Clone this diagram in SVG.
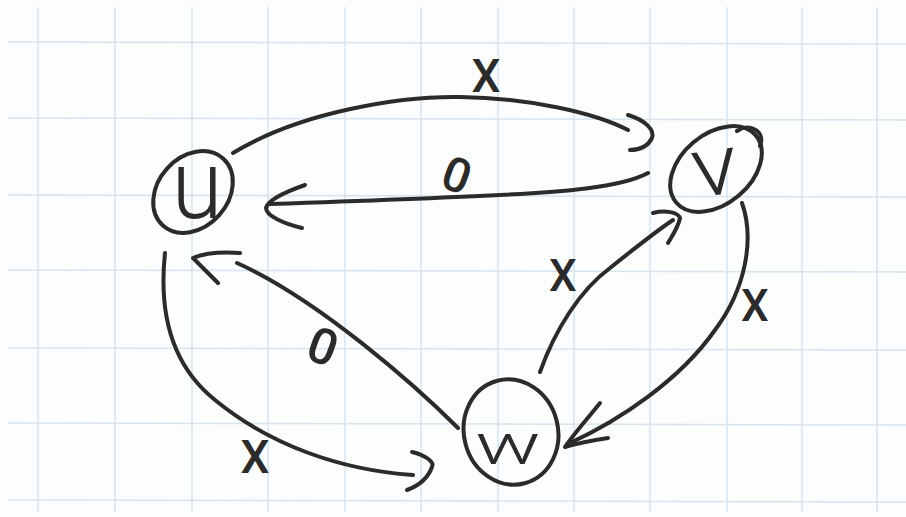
<svg xmlns="http://www.w3.org/2000/svg" width="906" height="517" viewBox="0 0 906 517">
<style>
.grid line{stroke:#d6e4ee;stroke-width:1.5}
.ink{fill:none;stroke:#2b2b2b;stroke-width:4;stroke-linecap:round;stroke-linejoin:round}
.lbl{font-family:Roboto,"Liberation Sans",sans-serif;font-weight:500;fill:#2b2b2b;text-anchor:middle}
.let{font-family:Roboto,"Liberation Sans",sans-serif;font-weight:300;fill:#2b2b2b;text-anchor:middle}
</style>
<rect width="906" height="517" fill="#fcfdfd"/>
<g class="grid">
<line x1="38" y1="7" x2="38" y2="512"/><line x1="115" y1="7" x2="115" y2="512"/><line x1="192" y1="7" x2="192" y2="512"/><line x1="268" y1="7" x2="268" y2="512"/><line x1="345" y1="7" x2="345" y2="512"/><line x1="421" y1="7" x2="421" y2="512"/><line x1="498" y1="7" x2="498" y2="512"/><line x1="574" y1="7" x2="574" y2="512"/><line x1="650" y1="7" x2="650" y2="512"/><line x1="727" y1="7" x2="727" y2="512"/><line x1="802" y1="7" x2="802" y2="512"/><line x1="877" y1="7" x2="877" y2="512"/>
<line x1="8" y1="42" x2="906" y2="44"/><line x1="8" y1="118" x2="906" y2="120"/><line x1="8" y1="195" x2="906" y2="197"/><line x1="8" y1="270" x2="906" y2="272"/><line x1="8" y1="348" x2="906" y2="350"/><line x1="8" y1="423" x2="906" y2="425"/><line x1="8" y1="500" x2="906" y2="502"/>
</g>
<g id="connectors">
<g id="e-u-v">
<path class="ink" d="M233,153 C300,112 400,96 460,97 C530,98 595,113 628,130"/>
<path class="ink" d="M628,115 C645,120 655,130 652,138 C648,146 640,150 630,150"/>
<text class="lbl" x="486" y="92" font-size="46">X</text>
</g>
<g id="e-v-u">
<path class="ink" d="M648,173 C620,188 560,192 500,195 C420,199 330,202 270,204"/>
<path class="ink" d="M305,185 C285,192 268,200 266,208 C266,216 285,224 302,228"/>
<text class="lbl" x="457" y="192" font-size="48" transform="rotate(20 457 175)">0</text>
</g>
<g id="e-w-u">
<path class="ink" d="M458,428 C420,390 320,300 237,263"/>
<path class="ink" d="M240,253 C225,252 205,253 193,258 C200,265 210,275 218,283"/>
<text class="lbl" x="323" y="364" font-size="50" transform="rotate(20 323 346)">0</text>
</g>
<g id="e-u-w">
<path class="ink" d="M165,253 C160,300 165,360 215,400 C270,445 340,470 413,475"/>
<path class="ink" d="M412,452 C425,455 435,462 432,467 C428,478 418,486 407,490"/>
<text class="lbl" x="255" y="473" font-size="46">X</text>
</g>
<g id="e-w-v">
<path class="ink" d="M540,372 C555,330 580,290 610,268 C635,248 655,232 673,220"/>
<path class="ink" d="M653,213 C665,210 678,212 680,218 C678,228 672,236 668,243"/>
<text class="lbl" x="563" y="291" font-size="44">X</text>
</g>
<g id="e-v-w">
<path class="ink" d="M742,203 C755,240 745,290 715,330 C680,380 620,420 570,443"/>
<path class="ink" d="M600,403 C588,418 573,435 565,447 C578,443 595,440 608,438"/>
<text class="lbl" x="755" y="321" font-size="44">X</text>
</g>
</g>
<g id="node-u">
<ellipse class="ink" cx="193" cy="192" rx="45" ry="35" transform="rotate(-48 193 192)"/>
<text class="let" x="197" y="218" font-size="96" textLength="51" lengthAdjust="spacingAndGlyphs">u</text>
</g>
<g id="node-v">
<ellipse class="ink" cx="716" cy="169" rx="52" ry="35" transform="rotate(-40 716 169)"/>
<path class="ink" d="M737,131 C750,122 766,132 760,146"/>
<text class="let" x="715" y="195" font-size="85" textLength="46" lengthAdjust="spacingAndGlyphs" transform="rotate(-8 715 172)">v</text>
</g>
<g id="node-w">
<ellipse class="ink" cx="511" cy="432" rx="47" ry="53" transform="rotate(-15 511 432)"/>
<text class="let" x="508" y="464" font-size="58" textLength="66" lengthAdjust="spacingAndGlyphs">w</text>
</g>
</svg>
